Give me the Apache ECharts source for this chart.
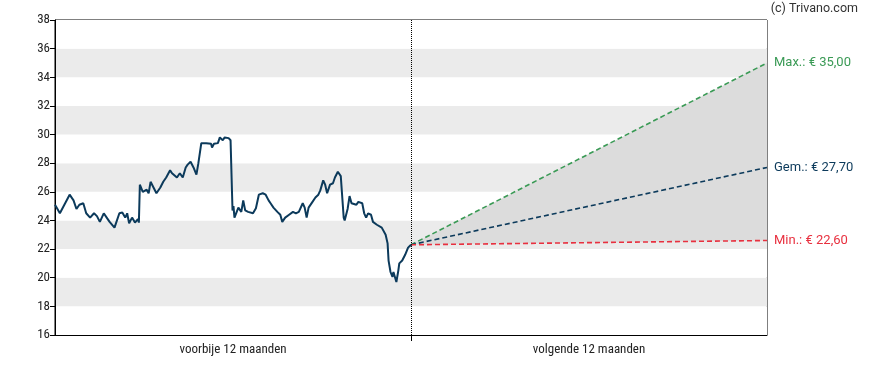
<!DOCTYPE html>
<html>
<head>
<meta charset="utf-8">
<script src="https://cdn.jsdelivr.net/npm/echarts@6/dist/echarts.min.js"></script>
<style>html,body{margin:0;padding:0;background:#fff}#c{width:888px;height:370px}</style>
</head>
<body>
<div id="c"></div>
<script>
// Past 12 months: day offset from start and closing price (EUR)
const pastDays = [0,1,5,10,12,15,19,22,25,29,32,36,40,43,46,50,53,56,61,66,69,72,74,76,79,82,85,86,87,90,94,96,98,100,104,108,111,114,116,118,120,122,125,128,131,134,136,139,142,145,147,150,152,155,157,160,161,163,167,169,172,174,178,180,182,183,184,185,188,189,191,193,195,198,203,206,209,213,216,219,221,224,228,231,233,236,240,244,247,250,252,254,256,258,260,264,267,270,272,275,277,279,282,285,287,290,291,293,295,296,297,300,302,304,306,309,311,315,317,319,321,324,326,328,330,332,335,337,339,341,342,344,346,347,350,352,353,356,358,359,362,363,365];
const pastPrices = [25.1,25.1,24.5,25.15,25.15,25.8,25.4,24.8,25.1,25.2,24.5,24.2,24.5,24.3,23.9,24.5,24.2,23.9,23.5,24.5,24.55,24.2,24.5,23.8,24.2,23.85,24.1,23.85,26.5,26.0,26.15,25.9,26.7,26.6,25.9,26.3,26.7,27.0,26.95,27.5,27.3,27.4,27.0,27.3,27.0,27.7,27.9,28.1,27.7,27.2,28.0,29.4,29.5,29.4,29.3,29.35,29.1,29.35,29.4,29.8,29.6,29.8,29.75,29.6,24.7,25.0,24.2,24.2,24.9,25.0,24.6,25.4,24.7,24.6,24.5,24.85,25.8,25.9,25.8,25.4,25.2,24.9,24.6,24.4,23.9,24.2,24.4,24.6,24.5,24.6,24.5,25.2,24.9,24.2,24.9,25.3,25.6,25.8,26.1,26.8,26.5,25.9,26.5,26.6,27.0,27.4,27.4,27.1,27.05,24.2,24.0,24.8,25.7,25.2,25.2,25.1,25.3,25.2,24.5,24.2,24.5,24.4,23.9,24.0,23.7,23.8,23.5,23.55,23.0,22.4,21.2,20.4,20.05,20.4,19.7,20.5,21.0,21.2,21.1,21.6,22.1,22.15,22.3];
// Forecast for next 12 months
const forecastDays = [365, 730];
const forecastMax = [22.3, 35.0];
const forecastAvg = [22.3, 27.7];
const forecastMin = [22.3, 22.6];
const periodLabels = ['voorbije 12 maanden', 'volgende 12 maanden'];
const yTicks = {min: 16, max: 38, step: 2};

const fmt = v => '€ ' + v.toFixed(2).replace('.', ',');
const zip = (xs, ys) => xs.map((x, i) => [x, ys[i]]);
const bandData = forecastDays.map((d, i) => [d, forecastMin[i], forecastMax[i]]);

const axisFont = "'Liberation Sans Narrow', 'Roboto Condensed', Roboto, sans-serif";
const chart = echarts.init(document.getElementById('c'), null, {renderer: 'canvas'});
chart.setOption({
  animation: false,
  grid: {left: 55, right: 121, top: 20, bottom: 35, show: true, borderColor: '#000', borderWidth: 1, backgroundColor: 'transparent'},
  graphic: [{type: 'text', right: 30, top: 2, style: {text: '(c) Trivano.com', font: "12.5px Roboto, sans-serif", fill: '#333'}}],
  xAxis: {
    type: 'value', min: 0, max: 730,
    axisLine: {show: true, lineStyle: {color: '#000'}},
    splitLine: {show: false},
    axisTick: {show: true, customValues: [365], length: 6, lineStyle: {color: '#000'}},
    axisLabel: {
      customValues: [182.5, 547.5],
      formatter: v => v < 365 ? periodLabels[0] : periodLabels[1],
      color: '#222', fontFamily: axisFont, fontSize: 13, margin: 8
    }
  },
  yAxis: {
    type: 'value', min: yTicks.min, max: yTicks.max, interval: yTicks.step,
    axisLine: {show: true, lineStyle: {color: '#000'}},
    axisTick: {show: true, length: 5, lineStyle: {color: '#000'}},
    axisLabel: {color: '#222', fontFamily: axisFont, fontSize: 13, margin: 5},
    splitLine: {show: false},
    splitArea: {show: true, areaStyle: {color: ['#ffffff', '#ebebeb']}}
  },
  series: [
    {type: 'custom', name: 'band', data: bandData, silent: true, z: 1,
      encode: {x: 0, y: [1, 2]},
      renderItem: (params, api) => {
        if (params.dataIndex !== 0) return null;
        const pts = [];
        bandData.forEach(r => pts.push(api.coord([r[0], r[2]])));
        bandData.slice().reverse().forEach(r => pts.push(api.coord([r[0], r[1]])));
        return {type: 'polygon', shape: {points: pts}, style: {fill: '#dcdcdc'}};
      }},
    {type: 'line', name: 'past', data: zip(pastDays, pastPrices), symbol: 'none', lineStyle: {color: '#0c3a5b', width: 2}, z: 5,
      markLine: {silent: true, symbol: 'none', label: {show: false}, lineStyle: {type: 'dotted', color: '#000', width: 1}, data: [{xAxis: 365}]}},
    {type: 'line', name: 'max', data: zip(forecastDays, forecastMax), symbol: 'none', lineStyle: {color: '#3a9a55', width: 1.6, type: [5, 3]}, z: 4,
      endLabel: {show: true, formatter: p => 'Max.: ' + fmt(p.value[1]), color: '#3a9a55', fontFamily: 'Roboto, sans-serif', fontSize: 13, distance: 7}},
    {type: 'line', name: 'avg', data: zip(forecastDays, forecastAvg), symbol: 'none', lineStyle: {color: '#0c3a5b', width: 1.6, type: [5, 3]}, z: 4,
      endLabel: {show: true, formatter: p => 'Gem.: ' + fmt(p.value[1]), color: '#0c3a5b', fontFamily: 'Roboto, sans-serif', fontSize: 13, distance: 7}},
    {type: 'line', name: 'min', data: zip(forecastDays, forecastMin), symbol: 'none', lineStyle: {color: '#e8303f', width: 1.6, type: [5, 3]}, z: 4,
      endLabel: {show: true, formatter: p => 'Min.: ' + fmt(p.value[1]), color: '#e8303f', fontFamily: 'Roboto, sans-serif', fontSize: 13, distance: 7}}
  ]
});
</script>
</body>
</html>
